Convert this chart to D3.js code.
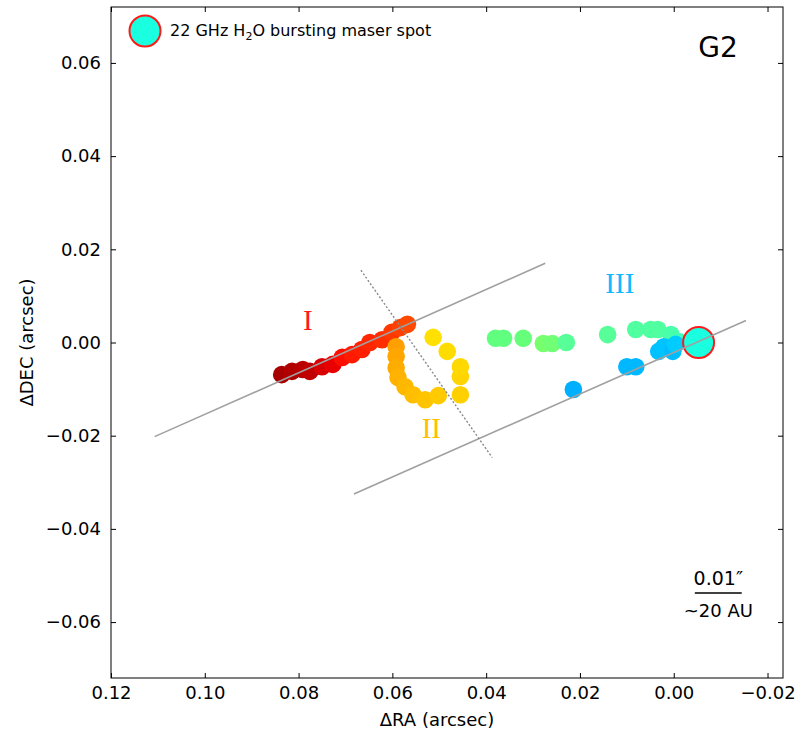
<!DOCTYPE html>
<html>
<head>
<meta charset="utf-8">
<script src="https://cdn.jsdelivr.net/npm/d3@7"></script>
<style>
  body { margin: 0; background: #fff; }
  svg { font-family: "DejaVu Sans", sans-serif; }
</style>
</head>
<body>
<svg width="800" height="735"></svg>
<script>
// positions in arcsec (dRA, dDEC)
var groupI = [[0.0836,-0.0069],[0.0814,-0.0062],[0.0791,-0.0058],[0.0776,-0.0062],[0.0750,-0.0052],[0.0727,-0.0047],[0.0707,-0.0032],[0.0686,-0.0026],[0.0665,-0.0015],[0.0648,0.0000],[0.0622,0.0006],[0.0601,0.0022],[0.0583,0.0032],[0.0568,0.0039]];
var colorsI = ["#a80000","#b00000","#b80000","#c00000","#d80000","#e80000","#ff0d00","#ff1a00","#ff2000","#ff2600","#ff2e00","#ff3800","#ff4000","#ff4800"];

var groupII = [[0.0592,-0.0009],[0.0592,-0.0030],[0.0592,-0.0054],[0.0588,-0.0075],[0.0573,-0.0095],[0.0556,-0.0112],[0.0530,-0.0123],[0.0502,-0.0114],[0.0455,-0.0112],[0.0455,-0.0073],[0.0455,-0.0052],[0.0483,-0.0019],[0.0513,0.0011]];
var colorsII = ["#ffa000","#ffa600","#ffac00","#ffb200","#ffb800","#ffbe00","#ffc400","#ffca00","#ffd000","#ffd400","#ffd800","#ffdc00","#ffe000"];

var groupIIIgreen = [[0.0380,0.0009],[0.0363,0.0009],[0.0321,0.0009],[0.0278,-0.0002],[0.0259,-0.0002],[0.0229,0.0000],[0.0141,0.0017],[0.0081,0.0028],[0.0049,0.0028],[0.0034,0.0028],[0.0006,0.0017],[-0.0011,0.0002]];
var colorsGreen = ["#60ff80","#60ff80","#66ff7a","#77ff6e","#70ff75","#58ff99","#58ff99","#50ffa0","#50ffa0","#50ffa0","#48ffaa","#40ffb8"];

var groupIIIblue = [[0.0214,-0.0101],[0.0100,-0.0052],[0.0081,-0.0052],[0.0032,-0.0019],[0.0021,-0.0009],[0.0002,-0.0019],[-0.0004,-0.0004]];
var colorsBlue = ["#00b0ff","#00b8ff","#00b8ff","#00c0ff","#00c4ff","#00bcff","#00ccff"];

var burstSpot = [-0.0053, 0.0000];

var solidLines = [[[0.1107,-0.0202],[0.0274,0.0170]], [[0.0682,-0.0325],[-0.0154,0.0047]]];
var dottedLine = [[0.0667,0.0155],[0.0387,-0.0247]];

var groupLabels = ["I","II","III"];
var groupLabelPos = [[0.0780,0.0049],[0.0517,-0.0183],[0.0115,0.0129]];
var groupLabelColors = ["#ff1a1a","#ffc000","#10baff"];

var xTicks = [0.12,0.10,0.08,0.06,0.04,0.02,0.00,-0.02];
var xTickLabels = ["0.12","0.10","0.08","0.06","0.04","0.02","0.00","\u22120.02"];
var yTicks = [0.06,0.04,0.02,0.00,-0.02,-0.04,-0.06];
var yTickLabels = ["0.06","0.04","0.02","0.00","\u22120.02","\u22120.04","\u22120.06"];

var scaleBar = [-0.0045, -0.0145]; // 0.01 arcsec

var margin = {left: 111, top: 7};
var w = 672, h = 671;

var svg = d3.select("svg");
var g = svg.append("g").attr("transform", "translate(" + margin.left + "," + margin.top + ")");

var x = d3.scaleLinear().domain([0.12, -0.0233]).range([0, w]);
var y = d3.scaleLinear().domain([-0.072, 0.072]).range([h, 0]);

// axes, ticks pointing in
g.append("g").attr("transform", "translate(0," + h + ")")
  .call(d3.axisBottom(x).tickValues(xTicks).tickSizeInner(-5).tickSizeOuter(0).tickPadding(8)
    .tickFormat((d, i) => xTickLabels[i]));
g.append("g")
  .call(d3.axisTop(x).tickValues(xTicks).tickSizeInner(-5).tickSizeOuter(0).tickFormat(""));
g.append("g")
  .call(d3.axisLeft(y).tickValues(yTicks).tickSizeInner(-5).tickSizeOuter(0).tickPadding(10)
    .tickFormat((d, i) => yTickLabels[i]));
g.append("g").attr("transform", "translate(" + w + ",0)")
  .call(d3.axisRight(y).tickValues(yTicks).tickSizeInner(-5).tickSizeOuter(0).tickFormat(""));

g.selectAll(".domain").remove();
g.selectAll(".tick line").attr("stroke", "#000");
g.selectAll(".tick text").attr("font-size", 18).attr("font-family", "DejaVu Sans").attr("fill", "#000");

g.append("rect").attr("width", w).attr("height", h)
  .attr("fill", "none").attr("stroke", "#000").attr("stroke-width", 1);

// points
function drawGroup(pts, cols) {
  g.append("g").selectAll("circle")
    .data(pts).enter().append("circle")
    .attr("cx", d => x(d[0]))
    .attr("cy", d => y(d[1]))
    .attr("r", 8.8)
    .attr("fill", (d, i) => cols[i]);
}
drawGroup(groupI, colorsI);
drawGroup(groupII, colorsII);
drawGroup(groupIIIgreen, colorsGreen);
drawGroup(groupIIIblue, colorsBlue);

g.append("circle")
  .attr("cx", x(burstSpot[0])).attr("cy", y(burstSpot[1]))
  .attr("r", 15.5).attr("fill", "#19ffdf")
  .attr("stroke", "#ff1a1a").attr("stroke-width", 2);

// fitted lines
var line = d3.line().x(d => x(d[0])).y(d => y(d[1]));
solidLines.forEach(function(l) {
  g.append("path").attr("d", line(l))
    .attr("fill", "none").attr("stroke", "#a0a0a0").attr("stroke-width", 1.6);
});
g.append("path").attr("d", line(dottedLine))
  .attr("fill", "none").attr("stroke", "#888").attr("stroke-width", 1.4)
  .attr("stroke-dasharray", "2,2");

// group labels
g.selectAll(".glabel").data(groupLabels).enter().append("text")
  .attr("x", (d, i) => x(groupLabelPos[i][0]))
  .attr("y", (d, i) => y(groupLabelPos[i][1]))
  .attr("dy", "0.35em")
  .attr("text-anchor", "middle")
  .attr("font-family", "Liberation Serif")
  .attr("font-size", 29)
  .attr("fill", (d, i) => groupLabelColors[i])
  .text(d => d);

// legend
g.append("circle").attr("cx", 34).attr("cy", 24).attr("r", 15.5)
  .attr("fill", "#19ffdf").attr("stroke", "#ff1a1a").attr("stroke-width", 2);
var lt = g.append("text").attr("x", 59).attr("y", 29).attr("font-size", 16).attr("fill", "#000");
lt.append("tspan").text("22 GHz H");
lt.append("tspan").attr("font-size", 11).attr("dy", 4).text("2");
lt.append("tspan").attr("dy", -4).text("O bursting maser spot");

// panel name
g.append("text").attr("x", 607).attr("y", 50).attr("text-anchor", "middle")
  .attr("font-size", 28).text("G2");

// scale bar
var sbMid = (x(scaleBar[0]) + x(scaleBar[1])) / 2;
g.append("text").attr("x", sbMid).attr("y", 578).attr("text-anchor", "middle")
  .attr("font-size", 19).text("0.01\u2033");
g.append("line").attr("x1", x(scaleBar[0])).attr("x2", x(scaleBar[1]))
  .attr("y1", 586).attr("y2", 586).attr("stroke", "#000").attr("stroke-width", 1.5);
g.append("text").attr("x", sbMid).attr("y", 610).attr("text-anchor", "middle")
  .attr("font-size", 18).text("~20 AU");

// axis titles
svg.append("text").attr("x", margin.left + w / 2 - 10).attr("y", 726).attr("text-anchor", "middle")
  .attr("font-size", 18).text("\u0394RA (arcsec)");
svg.append("text").attr("transform", "translate(33," + (margin.top + h / 2) + ") rotate(-90)")
  .attr("text-anchor", "middle").attr("font-size", 18).text("\u0394DEC (arcsec)");
</script>
</body>
</html>
